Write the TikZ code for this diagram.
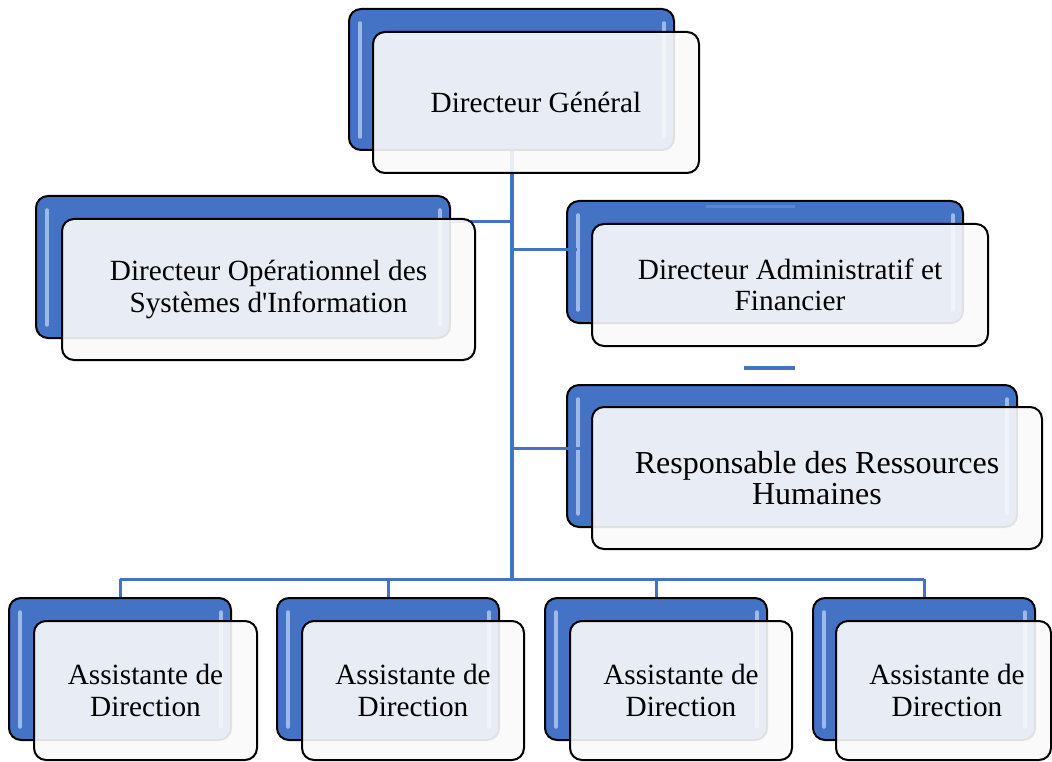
\documentclass[tikz,border=0pt]{standalone}
\usepackage{fontspec}
\setmainfont{Liberation Serif}[Ligatures=TeXOff]
\usetikzlibrary{calc}
\definecolor{boxblue}{HTML}{4472C4}
\definecolor{linkblue}{HTML}{4472C4}
\definecolor{glossblue}{HTML}{9DB9EA}
\definecolor{faintblue}{HTML}{5A86D2}
\definecolor{frontfill}{HTML}{FAFAFA}
\tikzset{
  backbox/.style={draw=black, line width=2pt, rounded corners=12pt, fill=boxblue, inner sep=0pt},
  frontbox/.style={draw=black, line width=2pt, rounded corners=12pt, fill=frontfill,
    fill opacity=0.9, text opacity=1, inner sep=0pt, align=center,
    font=\fontsize{29.3}{31.5}\selectfont},
  gloss/.style={draw=glossblue, line width=3.5pt, line cap=round},
  link/.style={draw=linkblue, line width=3pt},
  trunkline/.style={draw=linkblue, line width=4pt},
}
\newcommand{\glossy}[1]{%
  \draw[gloss] ($(#1.north west)+(12,15)$) -- ($(#1.south west)+(12,-14)$);
  \draw[gloss] ($(#1.north east)+(-11,15)$) -- ($(#1.south east)+(-11,-14)$);
}
\begin{document}
\begin{tikzpicture}[x=1pt, y=-1pt]
\useasboundingbox[fill=white] (0,0) rectangle (1052,762);

% back (blue) boxes
\node[backbox, minimum width=325pt, minimum height=141pt] (dgb) at (511.5,79.5) {};
\node[backbox, minimum width=414pt, minimum height=142pt] (dosib) at (243,267) {};
\node[backbox, minimum width=396pt, minimum height=122pt] (dafb) at (765,262) {};
\node[backbox, minimum width=450pt, minimum height=142pt] (rhb) at (792,456) {};
\node[backbox, minimum width=222pt, minimum height=142pt] (ab1) at (120,669) {};
\node[backbox, minimum width=222pt, minimum height=142pt] (ab2) at (388,669) {};
\node[backbox, minimum width=222pt, minimum height=142pt] (ab3) at (656,669) {};
\node[backbox, minimum width=222pt, minimum height=142pt] (ab4) at (924,669) {};
\glossy{dgb}\glossy{dosib}\glossy{dafb}\glossy{rhb}
\glossy{ab1}\glossy{ab2}\glossy{ab3}\glossy{ab4}

% connectors
\coordinate (busc) at (511.5,579);
\coordinate (jdosi) at (511.5,222);
\coordinate (jdaf) at (511.5,249);
\coordinate (jrh) at (511.5,448);
\draw[link] (ab1.north |- busc) -- (ab4.north |- busc);
\foreach \b in {ab1,ab2,ab3,ab4} { \draw[link] (\b.north |- busc) -- (\b.north); }
\draw[trunkline] (dgb.south) -- (busc);
\draw[link] (jdosi) -- (jdosi -| dosib.east);
\draw[link] (jdaf) -- ([xshift=11pt]jdaf -| dafb.west);
\coordinate (s1) at (744,368); \coordinate (s2) at (795,368);
\draw[link, line width=3.5pt] (s1) -- (s2);
\coordinate (t1) at (706,207); \coordinate (t2) at (795,207);
\draw[link, draw=faintblue] (t1) -- (t2);

% front boxes
\node[frontbox, minimum width=326pt, minimum height=141pt] (dg) at (536,102.5) {Directeur Général};
\node[frontbox, minimum width=413pt, minimum height=141pt] (dosi) at (268.5,289.5) {Directeur Opérationnel des\\Systèmes d'Information};
\node[frontbox, minimum width=396pt, minimum height=122pt] (daf) at (790,285) {Directeur Administratif et\\Financier};
\node[frontbox, minimum width=450pt, minimum height=142pt, font=\fontsize{32}{31.5}\selectfont] (rh) at (817,478) {Responsable des Ressources\\Humaines};
\draw[link] (jrh) -- (jrh -| rh.west);
\node[frontbox, minimum width=223pt, minimum height=139pt] (a1) at (145.5,690.5) {Assistante de\\Direction};
\node[frontbox, minimum width=222pt, minimum height=139pt] (a2) at (413,690.5) {Assistante de\\Direction};
\node[frontbox, minimum width=222pt, minimum height=139pt] (a3) at (681,690.5) {Assistante de\\Direction};
\node[frontbox, minimum width=215pt, minimum height=139pt] (a4) at (943.5,690.5) {\hspace*{7pt}Assistante de\\\hspace*{7pt}Direction};
\end{tikzpicture}
\end{document}
